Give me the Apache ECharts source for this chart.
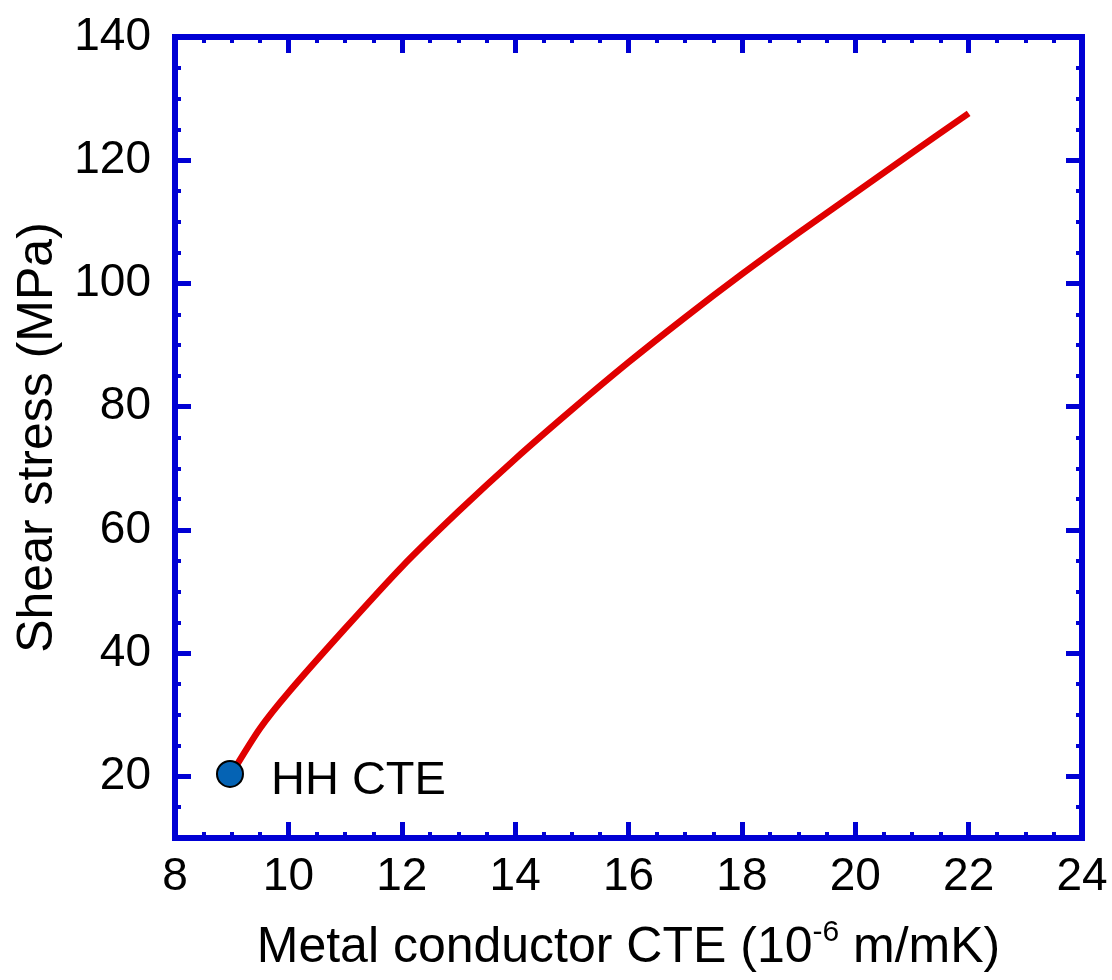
<!DOCTYPE html>
<html>
<head>
<meta charset="utf-8">
<script src="https://cdn.jsdelivr.net/npm/echarts@6/dist/echarts.min.js"></script>
<style>
    html, body { margin: 0; padding: 0; background: #fff; }
    #chart { width: 1112px; height: 980px; }
</style>
</head>
<body>
<div id="chart"></div>
<script>
//--------------------------------
// Data
//--------------------------------
const cte = [9, 9.5, 10, 11, 12, 13, 14, 15, 16, 17, 18, 19, 20, 21, 22];
const stress = [20.5, 27.8, 33.6, 44, 54, 63, 71.5, 79.5, 87.2, 94.5, 101.5, 108.2, 114.7, 121.2, 127.6];
const hhPoint = [8.97, 20.4];
const hhLabel = 'HH CTE';
const yTicks = [20, 40, 60, 80, 100, 120, 140];

//--------------------------------
// Style
//--------------------------------
const blue = '#0000d4';
const font = 'Liberation Sans, Arial, sans-serif';

const majorTick = { show: true, inside: true, length: 16, lineStyle: { color: blue, width: 5 } };
const minorTick = { show: true, inside: true, length: 6, lineStyle: { color: blue, width: 4 } };
const axisLine = { show: true, onZero: false, lineStyle: { color: blue, width: 6, cap: 'square' } };

const xAxisBase = (pos, showLabel) => ({
    type: 'value',
    position: pos,
    min: 8,
    max: 24,
    interval: 2,
    axisLine: axisLine,
    axisTick: majorTick,
    minorTick: { show: true, splitNumber: 4, length: 6, lineStyle: { color: blue, width: 4 } },
    splitLine: { show: false },
    minorSplitLine: { show: false },
    axisLabel: { show: showLabel, color: '#000', fontSize: 46, fontFamily: font, margin: 16 }
});

// minor ticks every 5 (min 10 is a multiple of 5)
const yMinorAxis = (pos, showLabel) => ({
    type: 'value',
    position: pos,
    min: 10,
    max: 140,
    interval: 5,
    axisLine: axisLine,
    axisTick: minorTick,
    splitLine: { show: false },
    axisLabel: {
        show: showLabel,
        customValues: yTicks,
        color: '#000',
        fontSize: 46,
        fontFamily: font,
        margin: 24
    }
});

// major ticks at 20, 40 ... 140
const yMajorAxis = (pos) => ({
    type: 'value',
    position: pos,
    min: 10,
    max: 140,
    axisLine: { show: false },
    axisTick: Object.assign({ customValues: yTicks }, majorTick),
    splitLine: { show: false },
    axisLabel: { show: false }
});

const chart = echarts.init(document.getElementById('chart'), null, { renderer: 'canvas' });

const xMain = xAxisBase('bottom', true);
xMain.name = 'Metal conductor CTE (10{sup|-6} m/mK)';
xMain.nameLocation = 'middle';
xMain.nameGap = 80;
xMain.nameTextStyle = {
    color: '#000',
    fontSize: 50,
    fontFamily: font,
    rich: {
        sup: { fontSize: 30, fontFamily: font, color: '#000', verticalAlign: 'top', lineHeight: 60 }
    }
};

const yMain = yMinorAxis('left', true);
yMain.name = 'Shear stress (MPa)';
yMain.nameLocation = 'middle';
yMain.nameGap = 112;
yMain.nameTextStyle = { color: '#000', fontSize: 50, fontFamily: font };

const options = {
    backgroundColor: '#fff',
    animation: false,
    grid: { left: 175, right: 30, top: 37, bottom: 142, containLabel: false },
    xAxis: [xMain, xAxisBase('top', false)],
    yAxis: [yMain, yMajorAxis('left'), yMinorAxis('right', false), yMajorAxis('right')],
    series: [
        {
            type: 'line',
            xAxisIndex: 0,
            yAxisIndex: 0,
            data: cte.map((x, i) => [x, stress[i]]),
            smooth: 0.25,
            symbol: 'none',
            lineStyle: { color: '#e00000', width: 6.5 },
            z: 2
        },
        {
            type: 'scatter',
            xAxisIndex: 0,
            yAxisIndex: 0,
            data: [hhPoint],
            symbol: 'circle',
            symbolSize: 26,
            itemStyle: { color: '#0563b4', borderColor: '#000', borderWidth: 2, opacity: 1 },
            label: {
                show: true,
                position: 'right',
                distance: 27,
                offset: [0, 7],
                formatter: hhLabel,
                color: '#000',
                opacity: 1,
                fontSize: 47,
                fontFamily: font
            },
            emphasis: { disabled: true },
            z: 5
        }
    ]
};

chart.setOption(options);
</script>
</body>
</html>
